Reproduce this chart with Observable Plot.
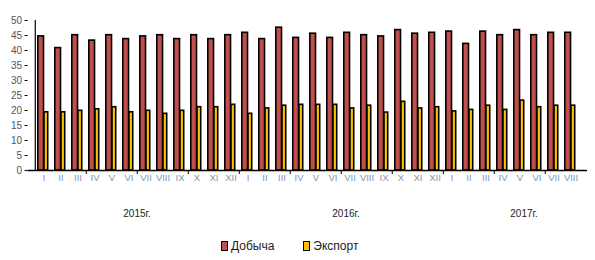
<!DOCTYPE html>
<html><head><meta charset="utf-8">
<script src="https://cdn.jsdelivr.net/npm/d3@7"></script>
<script src="https://cdn.jsdelivr.net/npm/@observablehq/plot@0.6"></script>
<style>
body{margin:0;background:#fff;font-family:"Liberation Sans",Arial,sans-serif;}
#legend{height:28px;display:flex;justify-content:flex-start;align-items:center;font-size:12px;color:#222;padding-left:221px;box-sizing:border-box;}
.item{display:flex;align-items:center;margin-right:29px;}
.sw{width:5px;height:8px;border:1.5px solid #000;margin-right:3px;}
</style></head><body>
<div id="chart"></div>
<div id="legend"></div>
<script>
const roman = ["I","II","III","IV","V","VI","VII","VIII","IX","X","XI","XII"];
const years = ["2015","2016","2017"];
const monthsPerYear = [12, 12, 8];
const dobycha = [44.7,40.8,45.1,43.3,45.1,43.8,44.7,45.1,43.8,45.1,43.8,45.1,
                 45.9,43.8,47.6,44.2,45.6,44.2,45.9,45.1,44.7,46.8,45.6,45.9,
                 46.3,42.2,46.3,45.1,46.8,45.1,45.9,45.9];
const eksport = [19.4,19.4,19.9,20.4,21.1,19.4,19.9,18.9,19.9,21.1,21.1,21.9,
                 18.9,20.7,21.6,21.9,21.9,21.9,20.7,21.6,19.3,22.9,20.7,21.1,
                 19.7,20.2,21.6,20.2,23.3,21.1,21.6,21.6];
const yearLabels = ["2015г.","2016г.","2017г."];
const seriesNames = ["Добыча","Экспорт"];
const colors = ["#c0504d","#ffc000"];

const data = [];
years.forEach((y, yi) => {
  for (let m = 0; m < monthsPerYear[yi]; m++) data.push({key: y + "-" + roman[m], year: y, month: roman[m]});
});
data.forEach((d, i) => { d.dob = dobycha[i]; d.exp = eksport[i]; });
const keys = data.map(d => d.key);
const sepKeys = keys.filter((k, i) => i > 0 && i % 3 === 0);
const yearAnchors = [{key:"2015-VI", label: yearLabels[0]},
                     {key:"2016-VI", label: yearLabels[1]},
                     {key:"2017-V", label: yearLabels[2]}];
const yearDx = [8, 13, 4];

const W = 595, H = 232;
const bw = (587 - 27.6) / keys.length;

const chart = Plot.plot({
  width: W, height: H,
  marginLeft: 27.6, marginRight: W - 587, marginTop: 20, marginBottom: H - 170,
  style: {fontFamily: "Liberation Sans, Arial, sans-serif", background: "#fff"},
  x: {type: "band", domain: keys, padding: 0, axis: null, label: null},
  y: {domain: [0, 50], axis: null, label: null},
  marks: [
    Plot.barY(data, {x: "key", y: "dob", fill: colors[0], stroke: "#000", strokeWidth: 1.6, insetLeft: 2.8, insetRight: bw - 9.0}),
    Plot.barY(data, {x: "key", y: "exp", fill: colors[1], stroke: "#000", strokeWidth: 1.6, insetLeft: 9.0, insetRight: bw - 13.2}),
    Plot.ruleY([0], {stroke: "#000", strokeWidth: 1.5}),
    Plot.ruleX([keys[0]], {x: d => d, dx: -bw / 2, y1: 0, y2: 50, stroke: "#000", strokeWidth: 1.2}),
    Plot.ruleX(sepKeys, {x: d => d, dx: -bw / 2, y1: 0, y2: 0, insetBottom: -4, stroke: "#000", strokeWidth: 1}),
    Plot.axisY({ticks: d3.range(0, 51, 5), tickSize: 3, tickPadding: 3, fontSize: 10, color: "#555", stroke: "#000", label: null}),
    Plot.axisX({tickSize: 0, tickPadding: 4, fontSize: 9.5, color: "#7f93ad", label: null, tickFormat: k => k.split("-")[1]}),
    ...yearAnchors.map((a, i) => Plot.text([a], {x: "key", y: () => 0, text: "label", dx: yearDx[i], dy: 43, fontSize: 10, fill: "#222"}))
  ]
});
document.getElementById("chart").appendChild(chart);

const lg = document.getElementById("legend");
seriesNames.forEach((n, i) => {
  const it = document.createElement("div"); it.className = "item";
  const sw = document.createElement("div"); sw.className = "sw"; sw.style.background = colors[i];
  const t = document.createElement("span"); t.textContent = n;
  it.appendChild(sw); it.appendChild(t); lg.appendChild(it);
});
</script></body></html>
